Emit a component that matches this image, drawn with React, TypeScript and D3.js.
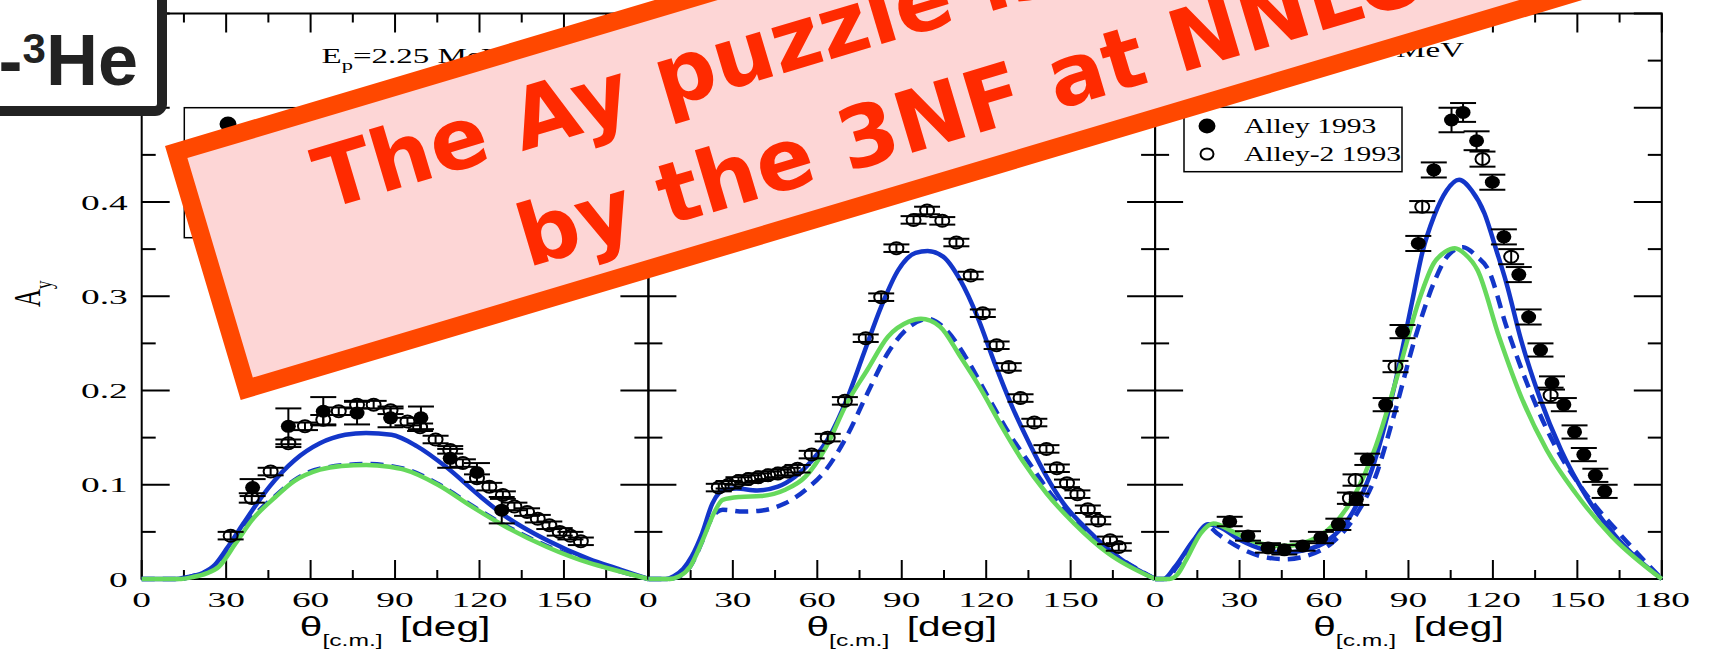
import React from 'react'
import * as d3 from 'd3'

type Pt = [number, number]
type Obs = [number, number, number]

// layout
const W = 1711, H = 663
const PW = 506.7
const PANEL_X = [141.7, 648.4, 1155.1]
const TOP = 13.5, BOTTOM = 579
const SERIF = '"Liberation Serif", "Times New Roman", serif'
const SANS = '"Liberation Sans", Arial, sans-serif'
const BLUE = '#1336c9'
const GREEN = '#66d95c'

const X_TICKS = [0, 30, 60, 90, 120, 150, 180]
const Y_TICKS = [0, 0.1, 0.2, 0.3, 0.4, 0.5]
const ENERGIES = ['2.25', '4.05', '5.54']
const LEGEND_LABELS = ['Alley 1993', 'Alley-2 1993']

// panel 1  (Ep = 2.25 MeV)
const P1_BLUE: Pt[] = [[0,0],[12,0],[16,0.002],[21.5,0.006],[26,0.015],[30.4,0.033],[34.6,0.052],[39.3,0.073],[45.4,0.098],[54.3,0.126],[63.3,0.144],[72.3,0.153],[79.7,0.155],[88.7,0.153],[97.7,0.141],[108.1,0.119],[120.1,0.088],[129,0.067],[144,0.041],[159,0.021],[170,0.010],[180,0]]
const P1_GREEN: Pt[] = [[0,0],[14,0],[18,0.002],[23,0.006],[27.4,0.013],[33.4,0.038],[39.3,0.063],[47.5,0.087],[54.3,0.104],[63.3,0.116],[71,0.120],[79.7,0.121],[88,0.119],[93.2,0.116],[105.2,0.100],[117.2,0.077],[129,0.056],[144,0.034],[159,0.017],[170,0.008],[180,0]]
const P1_DASH: Pt[] = [[0,0],[14,0],[18,0.003],[23,0.008],[27.4,0.016],[33.4,0.041],[39.3,0.065],[47.5,0.088],[54.3,0.105],[63.3,0.117],[79.7,0.122],[93.2,0.117],[105.2,0.101],[117.2,0.078],[129,0.057],[144,0.035],[159,0.018],[170,0.008],[180,0]]
const P1_FILLED: Obs[] = [[39.4,0.097,0.009],[52.1,0.162,0.019],[64.5,0.178,0.015],[76.5,0.176,0.012],[88.4,0.171,0.010],[99.2,0.171,0.012],[109.6,0.128,0.010],[119.1,0.113,0.010],[127.9,0.073,0.014]]
const P1_OPEN: Obs[] = [[31.6,0.046,0.004],[39.1,0.086,0.005],[45.8,0.114,0.004],[52.1,0.144,0.004],[58,0.162,0.004],[64.5,0.169,0.005],[70,0.178,0.004],[76.5,0.185,0.004],[82.4,0.185,0.004],[88.4,0.179,0.004],[94.4,0.167,0.004],[98.9,0.161,0.004],[104.4,0.148,0.004],[109.6,0.137,0.004],[114.1,0.123,0.004],[119.1,0.107,0.004],[123.5,0.098,0.004],[128.3,0.089,0.004],[132.4,0.077,0.004],[136.9,0.071,0.004],[140.7,0.064,0.004],[144.8,0.057,0.004],[148.5,0.050,0.004],[152.3,0.046,0.004],[156,0.040,0.004]]

// panel 2
const P2_BLUE: Pt[] = [[0,0],[6,0],[9,0.003],[12.4,0.011],[15.4,0.024],[19.1,0.0485],[22.7,0.080],[25,0.091],[27.5,0.095],[31.3,0.096],[38.6,0.094],[46,0.098],[52.1,0.1085],[58.2,0.126],[64.3,0.151],[70.4,0.190],[76.6,0.240],[82.7,0.289],[88.8,0.328],[94.9,0.346],[99.2,0.348],[104.7,0.342],[110.8,0.317],[116.9,0.278],[123,0.229],[129.2,0.183],[135.3,0.144],[141.4,0.109],[147.5,0.080],[156.1,0.052],[168.3,0.020],[180,0]]
const P2_GREEN: Pt[] = [[0,0],[7,0],[11,0.003],[14.8,0.013],[19.1,0.040],[23.3,0.070],[26.4,0.084],[32.5,0.087],[39.9,0.088],[48.4,0.0945],[55.8,0.1086],[63.1,0.140],[70.4,0.186],[77.8,0.222],[85.1,0.257],[92.5,0.273],[96.8,0.276],[103.5,0.268],[110.8,0.236],[118.2,0.201],[125.5,0.162],[132.8,0.126],[141.4,0.091],[151.2,0.059],[163.4,0.027],[180,0]]
const P2_DASH: Pt[] = [[0,0],[7,0],[11,0.003],[14.8,0.013],[19.1,0.040],[22,0.062],[24.4,0.071],[26.4,0.0735],[33.7,0.0715],[39.9,0.0725],[48.4,0.080],[55.8,0.0945],[63.1,0.116],[70.4,0.151],[77.8,0.197],[85.1,0.240],[92.5,0.267],[99.2,0.276],[105.9,0.264],[113.3,0.2325],[120.6,0.1935],[128,0.155],[135.3,0.123],[143.8,0.087],[153.6,0.0555],[165.9,0.0255],[180,0]]
const P2_FILLED: Obs[] = []
const P2_OPEN: Obs[] = [[25,0.097,0.004],[28.5,0.100,0.004],[32,0.104,0.004],[35.5,0.106,0.004],[39,0.108,0.004],[42.5,0.110,0.004],[46,0.112,0.004],[49.5,0.114,0.004],[53,0.117,0.004],[58,0.132,0.004],[63.7,0.150,0.004],[69.8,0.189,0.004],[77.2,0.2555,0.004],[82.7,0.299,0.004],[88.1,0.351,0.004],[94.2,0.381,0.004],[99,0.391,0.004],[104.4,0.380,0.004],[109.4,0.357,0.004],[114.5,0.322,0.004],[118.8,0.282,0.004],[123.7,0.248,0.004],[128,0.225,0.004],[132.2,0.192,0.004],[137.1,0.166,0.004],[141.4,0.138,0.004],[145.1,0.1175,0.004],[148.7,0.1015,0.004],[152.4,0.090,0.004],[156.1,0.074,0.004],[159.8,0.062,0.004],[164,0.041,0.004],[167.1,0.034,0.004]]

// panel 3
const P3_BLUE: Pt[] = [[0,0],[3,0],[7.1,0.013],[13.6,0.041],[18.8,0.058],[22.6,0.0555],[30.4,0.041],[38.2,0.0315],[45.9,0.028],[53.7,0.031],[61.5,0.041],[69.2,0.066],[77,0.116],[84.7,0.2006],[91.2,0.2927],[94.9,0.346],[99.1,0.385],[103.5,0.412],[108,0.4236],[112.5,0.412],[117,0.388],[121.2,0.349],[124.8,0.314],[130,0.2537],[136.5,0.1935],[144.2,0.137],[153.3,0.087],[164.9,0.041],[180,0]]
const P3_GREEN: Pt[] = [[0,0],[5,0],[8,0.005],[11,0.020],[16.2,0.0485],[20.7,0.059],[27.8,0.050],[36.9,0.038],[45.9,0.035],[55,0.0407],[62.7,0.0555],[70.5,0.087],[78.3,0.140],[86,0.2148],[93.8,0.296],[99,0.335],[103,0.347],[106.5,0.351],[110,0.345],[114.5,0.328],[122.2,0.257],[130,0.1935],[139.1,0.137],[149.4,0.091],[162.3,0.045],[180,0]]
const P3_DASH: Pt[] = [[0,0],[4,0],[7.5,0.012],[13.6,0.040],[18.8,0.056],[22,0.0485],[30.4,0.0326],[38.2,0.0237],[45.9,0.021],[53.7,0.0244],[62.7,0.038],[71.8,0.070],[78.3,0.1086],[84.7,0.172],[92.5,0.257],[99,0.314],[104,0.343],[109.4,0.352],[114,0.343],[118.4,0.328],[124.8,0.268],[132.6,0.204],[141.6,0.144],[152,0.0945],[164.9,0.0485],[180,0]]
const P3_FILLED: Obs[] = [[26.5,0.061,0.005],[33,0.0457,0.005],[40.1,0.033,0.005],[45.9,0.031,0.005],[52.4,0.035,0.005],[58.9,0.044,0.006],[65.1,0.058,0.006],[71.5,0.0846,0.006],[75.4,0.127,0.006],[81.9,0.185,0.007],[87.9,0.2625,0.007],[93.5,0.356,0.008],[99,0.434,0.008],[105.3,0.487,0.013],[109.4,0.495,0.010],[114.2,0.465,0.010],[119.8,0.421,0.008],[123.9,0.363,0.008],[129.2,0.323,0.008],[132.7,0.278,0.008],[136.9,0.243,0.007],[141,0.208,0.007],[145.2,0.185,0.007],[149,0.156,0.007],[152.3,0.132,0.007],[156.4,0.110,0.007],[159.7,0.093,0.007]]
const P3_OPEN: Obs[] = [[69.2,0.0857,0.006],[71.2,0.105,0.006],[85.4,0.2254,0.006],[94.9,0.395,0.006],[116.3,0.4455,0.008],[126.5,0.342,0.008],[140.5,0.195,0.008]]

const PANELS = [
  { blue: P1_BLUE, green: P1_GREEN, dash: P1_DASH, filled: P1_FILLED, open: P1_OPEN },
  { blue: P2_BLUE, green: P2_GREEN, dash: P2_DASH, filled: P2_FILLED, open: P2_OPEN },
  { blue: P3_BLUE, green: P3_GREEN, dash: P3_DASH, filled: P3_FILLED, open: P3_OPEN },
]
const TITLE_POS = [{ x: 321.5, y: 63, anchor: 'start' }, { x: 828, y: 60, anchor: 'start' }, { x: 1464, y: 57, anchor: 'end' }]
const LEGEND_POS = [{ x: 184.3, y: 107.7, w: 250, h: 130, sx: 228, tx: 265, r0: 124 }, { x: 1184, y: 107.3, w: 218, h: 64.4, sx: 1207, tx: 1244, r0: 126 }]

function ErrBar({ cx, y1, y2 }: { cx: number; y1: number; y2: number }) {
  return (
    <g stroke="#000" strokeWidth={2}>
      <line x1={cx} x2={cx} y1={y1} y2={y2} />
      <line x1={cx - 13} x2={cx + 13} y1={y1} y2={y1} />
      <line x1={cx - 13} x2={cx + 13} y1={y2} y2={y2} />
    </g>
  )
}

function Panel({ i }: { i: number }) {
  const p = PANELS[i]
  const x0 = PANEL_X[i]
  const x = d3.scaleLinear().domain([0, 180]).range([x0, x0 + PW])
  const y = d3.scaleLinear().domain([0, 0.6]).range([BOTTOM, TOP])
  const line = d3.line<Pt>().x(d => x(d[0])).y(d => y(d[1])).curve(d3.curveMonotoneX)
  const xt = d3.range(0, 181, 15)
  const yt = d3.range(0, 13).map(k => k * 0.05)
  const xLabels = i === 2 ? X_TICKS : X_TICKS.slice(0, -1)
  const cx = x0 + PW / 2
  const tp = TITLE_POS[i]
  return (
    <g>
      <g stroke="#000" strokeWidth={2}>
        {xt.map((t, k) => {
          const len = k % 2 === 0 ? 19 : 9
          return (
            <g key={'xt' + k}>
              <line x1={x(t)} x2={x(t)} y1={BOTTOM} y2={BOTTOM - len} />
              <line x1={x(t)} x2={x(t)} y1={TOP} y2={TOP + len} />
            </g>
          )
        })}
        {yt.map((v, k) => {
          const len = k % 2 === 0 ? 28 : 14
          return (
            <g key={'yt' + k}>
              <line x1={x0} x2={x0 + len} y1={y(v)} y2={y(v)} />
              <line x1={x0 + PW} x2={x0 + PW - len} y1={y(v)} y2={y(v)} />
            </g>
          )
        })}
      </g>
      <rect x={x0} y={TOP} width={PW} height={BOTTOM - TOP} fill="none" stroke="#000" strokeWidth={2} />
      <path d={line(p.blue) || ''} fill="none" stroke={BLUE} strokeWidth={4.5} />
      <path d={line(p.dash) || ''} fill="none" stroke={BLUE} strokeWidth={4.5} strokeDasharray="13 8" />
      <path d={line(p.green) || ''} fill="none" stroke={GREEN} strokeWidth={4.5} />
      {p.open.map(([t, a, e], k) => (
        <g key={'o' + k}>
          <ErrBar cx={x(t)} y1={y(a - e)} y2={y(a + e)} />
          <ellipse cx={x(t)} cy={y(a)} rx={7} ry={6} fill="none" stroke="#000" strokeWidth={2} />
        </g>
      ))}
      {p.filled.map(([t, a, e], k) => (
        <g key={'f' + k}>
          <ErrBar cx={x(t)} y1={y(a - e)} y2={y(a + e)} />
          <ellipse cx={x(t)} cy={y(a)} rx={7.5} ry={6.5} fill="#000" />
        </g>
      ))}
      {xLabels.map(t => (
        <text key={'xl' + t} transform={`translate(${x(t)},606.5) scale(1.7,1)`} textAnchor="middle" fontFamily={SERIF} fontSize={22}>{t}</text>
      ))}
      {i === 0 && Y_TICKS.map(v => (
        <text key={'yl' + v} transform={`translate(${x0 - 14},${y(v) + 7.5}) scale(1.7,1)`} textAnchor="end" fontFamily={SERIF} fontSize={22}>{v === 0 ? '0' : v.toFixed(1)}</text>
      ))}
      <text transform={`translate(${cx},636) scale(1.45,1)`} textAnchor="middle" fontFamily={SANS} fontSize={28}>
        θ<tspan fontSize={17} dy={10}>[c.m.]</tspan><tspan dy={-10} dx={12}>[deg]</tspan>
      </text>
      <text transform={`translate(${tp.x},${tp.y}) scale(1.5,1)`} textAnchor={tp.anchor} fontFamily={SERIF} fontSize={22}>
        E<tspan fontSize={15} dy={7}>p</tspan><tspan dy={-7}>={ENERGIES[i]} MeV</tspan>
      </text>
    </g>
  )
}

function Legend({ k }: { k: number }) {
  const L = LEGEND_POS[k]
  return (
    <g>
      <rect x={L.x} y={L.y} width={L.w} height={L.h} fill="#fff" stroke="#000" strokeWidth={1.5} />
      {LEGEND_LABELS.map((lab, r) => (
        <g key={lab}>
          <ellipse cx={L.sx} cy={L.r0 + r * 28} rx={r === 0 ? 7.5 : 6.5} ry={r === 0 ? 6.5 : 5.5} fill={r === 0 ? '#000' : 'none'} stroke="#000" strokeWidth={2} />
          <text transform={`translate(${L.tx},${L.r0 + r * 28 + 7}) scale(1.41,1)`} fontFamily={SERIF} fontSize={21}>{lab}</text>
        </g>
      ))}
    </g>
  )
}

export default function App() {
  return (
    <svg width={W} height={H} style={{ position: 'absolute', left: 0, top: 0, background: '#fff' }}>
      <rect width={W} height={H} fill="#fff" />
      {[0, 1, 2].map(i => <Panel key={i} i={i} />)}
      <Legend k={0} />
      <Legend k={1} />
      <text transform="translate(40,307) scale(1.5,1) rotate(-90)" fontFamily={SERIF} fontSize={25}>
        A<tspan fontSize={17} dy={8}>y</tspan>
      </text>
      <g transform="translate(165,146) rotate(-16.6)">
        <rect x={9} y={9} width={1700} height={247} fill="#fdd6d6" stroke="#ff4800" strokeWidth={18} />
        <text x={135} y={107} fontFamily="DejaVu Sans" fontWeight="bold" fontSize={85} fill="#ff2a00">The Ay puzzle is solved</text>
        <text x={313} y={220} fontFamily="DejaVu Sans" fontWeight="bold" fontSize={85} fill="#ff2a00">by the 3NF at NNLO!</text>
      </g>
      <rect x={-30} y={-20} width={192} height={131} rx={7} fill="#fff" stroke="#222" strokeWidth={10} />
      <text x={138} y={85} textAnchor="end" fontFamily={SANS} fontWeight="bold" fontSize={72} fill="#222">
        p-<tspan fontSize={42} dy={-22}>3</tspan><tspan dy={22}>He</tspan>
      </text>
    </svg>
  )
}
